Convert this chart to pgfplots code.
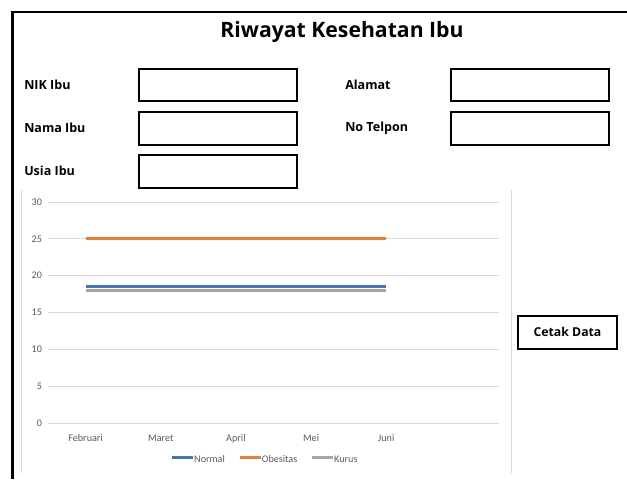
\documentclass[border=0pt]{standalone}
\usepackage{fontspec}
\setmainfont{Open Sans}
\newfontfamily\calfont{Carlito}
\usepackage{pgfplots}
\pgfplotsset{compat=1.18}
\definecolor{cblue}{HTML}{4472C4}
\definecolor{corange}{HTML}{ED7D31}
\definecolor{cgray}{HTML}{A5A5A5}
\definecolor{gridc}{HTML}{D9D9D9}
\definecolor{txtc}{HTML}{595959}
\begin{document}
\begin{tikzpicture}[x=0.75pt,y=0.75pt]
\useasboundingbox (0,0) rectangle (627,479);
% outer frame
\draw[line width=2.2pt] (12.5,0) -- (12.5,467) -- (627,467);
% title
\node[font=\bfseries\fontsize{15.9}{17}\selectfont] at (342,447) {Riwayat Kesehatan Ibu};
% labels
\begin{scope}[every node/.style={font=\bfseries\fontsize{9.4}{11}\selectfont, anchor=west, inner sep=0pt}]
\node at (24,394) {NIK Ibu};
\node at (24,351) {Nama Ibu};
\node at (24,308) {Usia Ibu};
\node at (345,394) {Alamat};
\node at (345,351) {No Telpon};
\end{scope}
% boxes
\begin{scope}[line width=1.9pt]
\draw (139,410) rectangle (297,378);
\draw (139,367) rectangle (297,334);
\draw (139,324) rectangle (297,291);
\draw (451,410) rectangle (609,378);
\draw (451,367) rectangle (609,334);
\draw (518,163) rectangle (617,130);
\end{scope}
\node[font=\bfseries\fontsize{9.2}{11}\selectfont] at (567.5,147) {Cetak Data};
% chart area frame
\draw[gridc, line width=0.75pt] (21,289) -- (21,6);
\draw[gridc, line width=0.75pt] (511,289) -- (511,6);
\coordinate (A) at (48,56);
\begin{axis}[
  at={(A)}, anchor=south west,
  scale only axis, width=338.25pt, height=165.75pt,
  xmin=-0.5, xmax=5.5, ymin=0, ymax=30,
  xtick={0,1,2,3,4},
  xticklabels={Februari,Maret,April,Mei,Juni},
  ytick={0,5,10,15,20,25,30},
  ymajorgrids, grid style={gridc, line width=0.75pt},
  axis line style={draw=none},
  major tick length=0pt,
  /pgf/number format/assume math mode=true,
  ticklabel style={font=\calfont\fontsize{7.6}{9}\selectfont, text=txtc},
  yticklabel style={xshift=-1pt},
  xticklabel style={yshift=-2pt, text height=1.5ex, text depth=0.3ex},
  legend style={at={(0.482,-0.158)}, anchor=center, draw=none, fill=none,
    legend columns=3, font=\calfont\fontsize{7.6}{9}\selectfont, text=txtc,
    nodes={text height=1.5ex, text depth=0.3ex},
    /tikz/every even column/.append style={column sep=8pt},
    inner sep=0pt},
  legend image code/.code={\draw[#1] (0,0) -- (16pt,0);},
  legend cell align=left,
]
\addplot[cblue, line width=2.2pt] coordinates {(0,18.5) (1,18.5) (2,18.5) (3,18.5) (4,18.5)};
\addlegendentry{\hspace{-2.5pt}Normal}
\addplot[corange, line width=2.2pt] coordinates {(0,25) (1,25) (2,25) (3,25) (4,25)};
\addlegendentry{\hspace{-2.5pt}Obesitas}
\addplot[cgray, line width=2.2pt] coordinates {(0,18) (1,18) (2,18) (3,18) (4,18)};
\addlegendentry{\hspace{-2.5pt}Kurus}
\end{axis}
\end{tikzpicture}
\end{document}
